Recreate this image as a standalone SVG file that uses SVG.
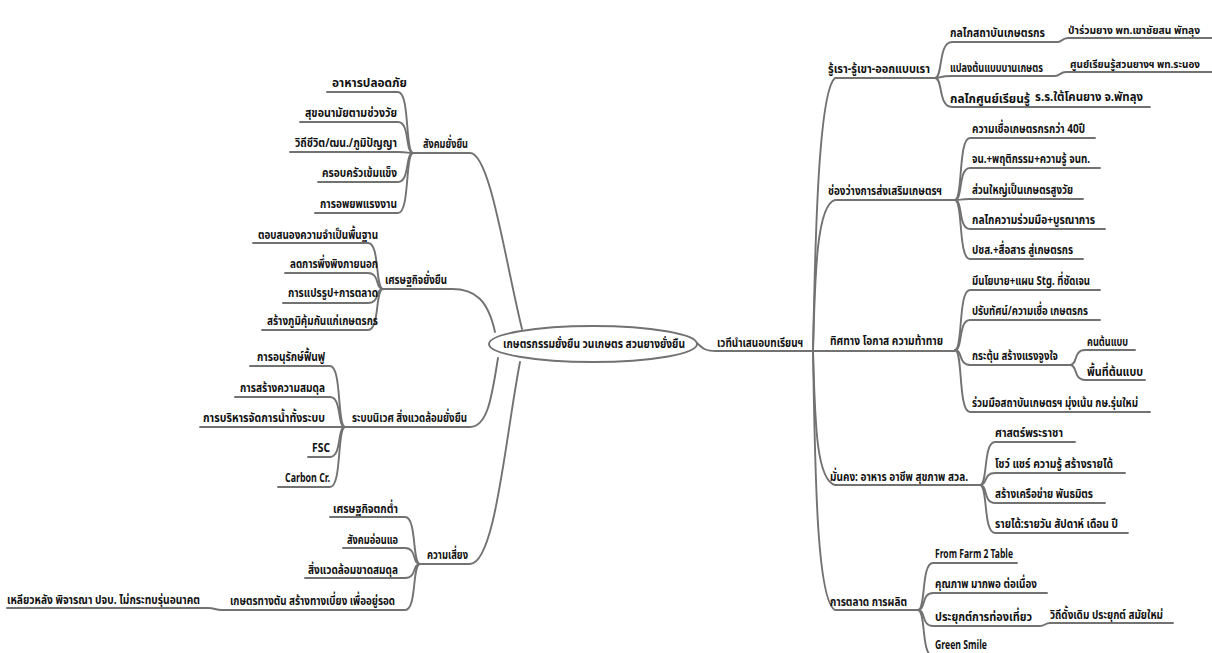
<svg xmlns="http://www.w3.org/2000/svg" width="1212" height="653" viewBox="0 0 1212 653">
<style>
.c{fill:none;stroke:#727272;stroke-width:1.9;stroke-linecap:round}
text{font-family:"Noto Sans Thai","Noto Sans","DejaVu Sans",sans-serif;font-weight:bold;font-size:13px;fill:#111}
.s{font-size:11.5px}
.t{font-size:10px}
</style>
<rect width="1212" height="653" fill="#fff"/>
<g id="connectors" class="c">
<path class="c" d="M697 343 C703 349,706 351,716 351 H813"/>
<path class="c" d="M813 351 C815 250,818 92,835 78 H935"/>
<path class="c" d="M813 351 C815 280,816 205,835 200 H955"/>
<path class="c" d="M813 351 H955"/>
<path class="c" d="M813 351 C815 420,816 480,835 485 H980"/>
<path class="c" d="M813 351 C815 460,816 600,835 610 H918"/>
<path class="c" d="M935 78 C943 78,938 42,952 42 H1058 C1062 42,1062 38,1068 38 H1212"/>
<path class="c" d="M935 78 C943 78,938 76,952 76 H1055 C1060 76,1060 72,1066 72 H1212"/>
<path class="c" d="M935 78 C943 78,938 107,952 107 H1150"/>
<path class="c" d="M955 200 C963 200,958 138,970 138 H1095"/>
<path class="c" d="M955 200 C963 200,958 168,970 168 H1100"/>
<path class="c" d="M955 200 C963 200,958 199,970 199 H1083"/>
<path class="c" d="M955 200 C963 200,958 229,970 229 H1105"/>
<path class="c" d="M955 200 C963 200,958 259,970 259 H1083"/>
<path class="c" d="M955 350 C963 350,958 290,970 290 H1100"/>
<path class="c" d="M955 350 C963 350,958 320,970 320 H1100"/>
<path class="c" d="M955 350 C963 350,958 365,970 365 H1070"/>
<path class="c" d="M955 350 C963 350,958 412,970 412 H1150"/>
<path class="c" d="M1070 365 C1078 365,1073 350,1085 350 H1135"/>
<path class="c" d="M1070 365 C1078 365,1073 380,1085 380 H1145"/>
<path class="c" d="M980 485 C988 485,983 442,995 442 H1075"/>
<path class="c" d="M980 485 C988 485,983 473,995 473 H1125"/>
<path class="c" d="M980 485 C988 485,983 503,995 503 H1105"/>
<path class="c" d="M980 485 C988 485,983 533,995 533 H1128"/>
<path class="c" d="M918 610 C926 610,921 563,933 563 H1017"/>
<path class="c" d="M918 610 C926 610,921 593,933 593 H1047"/>
<path class="c" d="M918 610 C926 610,921 626,933 626 H1040 C1045 626,1045 623,1050 623 H1173"/>
<path class="c" d="M918 610 C926 610,921 656,933 656 H990"/>
<path class="c" d="M522 329 C505 260,490 153,470 153 H413"/>
<path class="c" d="M413 153 C405 153,410 92,398 92 H327"/>
<path class="c" d="M413 153 C405 153,410 122,398 122 H300"/>
<path class="c" d="M413 153 C405 153,410 152,398 152 H290"/>
<path class="c" d="M413 153 C405 153,410 182,398 182 H318"/>
<path class="c" d="M413 153 C405 153,410 213,398 213 H315"/>
<path class="c" d="M495 332 C488 300,475 289,452 289 H383"/>
<path class="c" d="M383 289 C375 289,380 243,368 243 H253"/>
<path class="c" d="M383 289 C375 289,380 273,368 273 H285"/>
<path class="c" d="M383 289 C375 289,380 303,368 303 H283"/>
<path class="c" d="M383 289 C375 289,380 330,368 330 H262"/>
<path class="c" d="M498 358 C492 395,488 427,470 427 H345"/>
<path class="c" d="M345 427 C337 427,342 366,330 366 H250"/>
<path class="c" d="M345 427 C337 427,342 397,330 397 H235"/>
<path class="c" d="M345 427 H200"/>
<path class="c" d="M345 427 C337 427,342 457,330 457 H308"/>
<path class="c" d="M345 427 C337 427,342 487,330 487 H278"/>
<path class="c" d="M520 362 C505 440,495 564,470 564 H420"/>
<path class="c" d="M420 564 C412 564,417 517,405 517 H330"/>
<path class="c" d="M420 564 C412 564,417 548,405 548 H343"/>
<path class="c" d="M420 564 C412 564,417 578,405 578 H305"/>
<path class="c" d="M420 564 C412 564,417 610,405 610 H222 C215 610,215 608,208 608 H7"/>
</g>
<g id="center"><ellipse cx="593" cy="344" rx="104" ry="18" fill="#fff" stroke="#727272" stroke-width="1.9"/><text class="s" x="503" y="348" textLength="182" lengthAdjust="spacingAndGlyphs">เกษตรกรรมยั่งยืน วนเกษตร สวนยางยั่งยืน</text></g>
<g id="r0"><text x="717" y="347" textLength="86" lengthAdjust="spacingAndGlyphs">เวทีนำเสนอบทเรียนฯ</text></g>
<g id="r1"><text x="828" y="73" textLength="102" lengthAdjust="spacingAndGlyphs">รู้เรา-รู้เขา-ออกแบบเรา</text></g>
<g id="r1a"><text x="950" y="37" textLength="95" lengthAdjust="spacingAndGlyphs">กลไกสถาบันเกษตรกร</text></g>
<g id="r1a1"><text class="t" x="1068" y="34" textLength="132" lengthAdjust="spacingAndGlyphs">ป่าร่วมยาง พท.เขาชัยสน พัทลุง</text></g>
<g id="r1b"><text x="950" y="72" textLength="93" lengthAdjust="spacingAndGlyphs">แปลงต้นแบบบานเกษตร</text></g>
<g id="r1b1"><text class="t" x="1070" y="68" textLength="130" lengthAdjust="spacingAndGlyphs">ศูนย์เรียนรู้สวนยางฯ พท.ระนอง</text></g>
<g id="r1c"><text x="950" y="103" textLength="80" lengthAdjust="spacingAndGlyphs">กลไกศูนย์เรียนรู้</text></g>
<g id="r1c1"><text x="1035" y="101" textLength="108" lengthAdjust="spacingAndGlyphs">ร.ร.ใต้โคนยาง จ.พัทลุง</text></g>
<g id="r2"><text x="828" y="195" textLength="114" lengthAdjust="spacingAndGlyphs">ช่องว่างการส่งเสริมเกษตรฯ</text></g>
<g id="r2a"><text x="972" y="133" textLength="113" lengthAdjust="spacingAndGlyphs">ความเชื่อเกษตรกรกว่า 40ปี</text></g>
<g id="r2b"><text x="972" y="163" textLength="118" lengthAdjust="spacingAndGlyphs">จน.+พฤติกรรม+ความรู้ จนท.</text></g>
<g id="r2c"><text x="972" y="194" textLength="101" lengthAdjust="spacingAndGlyphs">ส่วนใหญ่เป็นเกษตรสูงวัย</text></g>
<g id="r2d"><text x="972" y="224" textLength="123" lengthAdjust="spacingAndGlyphs">กลไกความร่วมมือ+บูรณาการ</text></g>
<g id="r2e"><text x="972" y="254" textLength="101" lengthAdjust="spacingAndGlyphs">ปชส.+สื่อสาร สู่เกษตรกร</text></g>
<g id="r3"><text x="830" y="345" textLength="113" lengthAdjust="spacingAndGlyphs">ทิศทาง โอกาส ความท้าทาย</text></g>
<g id="r3a"><text x="972" y="285" textLength="118" lengthAdjust="spacingAndGlyphs">มีนโยบาย+แผน Stg. ที่ชัดเจน</text></g>
<g id="r3b"><text x="972" y="315" textLength="116" lengthAdjust="spacingAndGlyphs">ปรับทัศน์/ความเชื่อ เกษตรกร</text></g>
<g id="r3c"><text x="972" y="360" textLength="86" lengthAdjust="spacingAndGlyphs">กระตุ้น สร้างแรงจูงใจ</text></g>
<g id="r3c1"><text x="1087" y="346" textLength="41" lengthAdjust="spacingAndGlyphs">คนต้นแบบ</text></g>
<g id="r3c2"><text x="1087" y="376" textLength="56" lengthAdjust="spacingAndGlyphs">พื้นที่ต้นแบบ</text></g>
<g id="r3d"><text x="972" y="407" textLength="166" lengthAdjust="spacingAndGlyphs">ร่วมมือสถาบันเกษตรฯ มุ่งเน้น กษ.รุ่นใหม่</text></g>
<g id="r4"><text x="830" y="481" textLength="138" lengthAdjust="spacingAndGlyphs">มั่นคง: อาหาร อาชีพ สุขภาพ สวล.</text></g>
<g id="r4a"><text x="995" y="437" textLength="68" lengthAdjust="spacingAndGlyphs">ศาสตร์พระราชา</text></g>
<g id="r4b"><text x="995" y="468" textLength="118" lengthAdjust="spacingAndGlyphs">โชว์ แชร์ ความรู้ สร้างรายได้</text></g>
<g id="r4c"><text x="995" y="498" textLength="98" lengthAdjust="spacingAndGlyphs">สร้างเครือข่าย พันธมิตร</text></g>
<g id="r4d"><text x="995" y="528" textLength="123" lengthAdjust="spacingAndGlyphs">รายได้:รายวัน สัปดาห์ เดือน ปี</text></g>
<g id="r5"><text x="830" y="606" textLength="77" lengthAdjust="spacingAndGlyphs">การตลาด การผลิต</text></g>
<g id="r5a"><text x="935" y="558" textLength="78" lengthAdjust="spacingAndGlyphs">From Farm 2 Table</text></g>
<g id="r5b"><text x="935" y="588" textLength="102" lengthAdjust="spacingAndGlyphs">คุณภาพ มากพอ ต่อเนื่อง</text></g>
<g id="r5c"><text x="935" y="621" textLength="97" lengthAdjust="spacingAndGlyphs">ประยุกต์การท่องเที่ยว</text></g>
<g id="r5c1"><text x="1050" y="619" textLength="113" lengthAdjust="spacingAndGlyphs">วิถีดั้งเดิม ประยุกต์ สมัยใหม่</text></g>
<g id="r5d"><text x="935" y="649" textLength="52" lengthAdjust="spacingAndGlyphs">Green Smile</text></g>
<g id="l1"><text x="423" y="148" textLength="45" lengthAdjust="spacingAndGlyphs">สังคมยั่งยืน</text></g>
<g id="l1a"><text x="332" y="87" textLength="75" lengthAdjust="spacingAndGlyphs">อาหารปลอดภัย</text></g>
<g id="l1b"><text x="305" y="117" textLength="92" lengthAdjust="spacingAndGlyphs">สุขอนามัยตามช่วงวัย</text></g>
<g id="l1c"><text x="295" y="147" textLength="102" lengthAdjust="spacingAndGlyphs">วิถีชีวิต/ฒน./ภูมิปัญญา</text></g>
<g id="l1d"><text x="322" y="177" textLength="75" lengthAdjust="spacingAndGlyphs">ครอบครัวเข้มแข็ง</text></g>
<g id="l1e"><text x="320" y="208" textLength="77" lengthAdjust="spacingAndGlyphs">การอพยพแรงงาน</text></g>
<g id="l2"><text x="385" y="284" textLength="62" lengthAdjust="spacingAndGlyphs">เศรษฐกิจยั่งยืน</text></g>
<g id="l2a"><text x="258" y="239" textLength="120" lengthAdjust="spacingAndGlyphs">ตอบสนองความจำเป็นพื้นฐาน</text></g>
<g id="l2b"><text x="290" y="268" textLength="88" lengthAdjust="spacingAndGlyphs">ลดการพึ่งพิงภายนอก</text></g>
<g id="l2c"><text x="288" y="297" textLength="90" lengthAdjust="spacingAndGlyphs">การแปรรูป+การตลาด</text></g>
<g id="l2d"><text x="267" y="325" textLength="111" lengthAdjust="spacingAndGlyphs">สร้างภูมิคุ้มกันแก่เกษตรกร</text></g>
<g id="l3"><text x="352" y="422" textLength="115" lengthAdjust="spacingAndGlyphs">ระบบนิเวศ สิ่งแวดล้อมยั่งยืน</text></g>
<g id="l3a"><text x="257" y="361" textLength="68" lengthAdjust="spacingAndGlyphs">การอนุรักษ์ฟื้นฟู</text></g>
<g id="l3b"><text x="240" y="392" textLength="85" lengthAdjust="spacingAndGlyphs">การสร้างความสมดุล</text></g>
<g id="l3c"><text x="203" y="422" textLength="122" lengthAdjust="spacingAndGlyphs">การบริหารจัดการน้ำทั้งระบบ</text></g>
<g id="l3d"><text x="312" y="452" textLength="18" lengthAdjust="spacingAndGlyphs">FSC</text></g>
<g id="l3e"><text x="285" y="482" textLength="45" lengthAdjust="spacingAndGlyphs">Carbon Cr.</text></g>
<g id="l4"><text x="427" y="559" textLength="41" lengthAdjust="spacingAndGlyphs">ความเสี่ยง</text></g>
<g id="l4a"><text x="333" y="513" textLength="65" lengthAdjust="spacingAndGlyphs">เศรษฐกิจตกต่ำ</text></g>
<g id="l4b"><text x="347" y="544" textLength="51" lengthAdjust="spacingAndGlyphs">สังคมอ่อนแอ</text></g>
<g id="l4c"><text x="308" y="574" textLength="90" lengthAdjust="spacingAndGlyphs">สิ่งแวดล้อมขาดสมดุล</text></g>
<g id="l4d"><text x="230" y="605" textLength="165" lengthAdjust="spacingAndGlyphs">เกษตรทางตัน สร้างทางเบี่ยง เพื่ออยู่รอด</text></g>
<g id="l4d1"><text x="7" y="604" textLength="193" lengthAdjust="spacingAndGlyphs">เหลียวหลัง พิจารณา ปจบ. ไม่กระทบรุ่นอนาคต</text></g>
</svg>
